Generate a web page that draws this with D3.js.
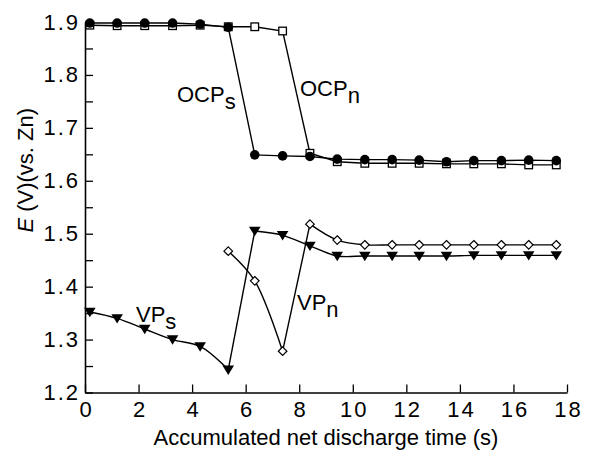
<!DOCTYPE html>
<html>
<head>
<meta charset="utf-8">
<script src="https://cdn.jsdelivr.net/npm/d3@7"></script>
<style>
  html, body { margin: 0; padding: 0; background: #fff; }
  svg { display: block; }
  text { font-family: "Liberation Sans", Arial, sans-serif; fill: #000; }
</style>
</head>
<body>
<svg id="chart" width="599" height="454"></svg>
<script>
// Accumulated net discharge time (s) of each measurement
const times = [0.18, 1.2, 2.23, 3.27, 4.3, 5.35, 6.34, 7.38, 8.4, 9.42, 10.45, 11.47, 12.48, 13.5, 14.52, 15.55, 16.57, 17.6];

// Open-circuit potentials (V vs. Zn)
const ocpS = [1.898, 1.898, 1.898, 1.898, 1.896, 1.890, 1.649, 1.647, 1.646, 1.641, 1.640, 1.640, 1.639, 1.636, 1.638, 1.638, 1.639, 1.638];
const ocpN = [1.894, 1.893, 1.893, 1.893, 1.894, 1.891, 1.891, 1.883, 1.652, 1.636, 1.633, 1.633, 1.633, 1.632, 1.632, 1.632, 1.630, 1.630];

// Voltage plateaus (V vs. Zn); VPn starts at the sixth measurement
const vpS = [1.352, 1.340, 1.320, 1.300, 1.287, 1.243, 1.505, 1.497, 1.477, 1.458, 1.458, 1.458, 1.458, 1.458, 1.459, 1.459, 1.459, 1.459];
const vpNStart = 5;
const vpN = [1.467, 1.411, 1.278, 1.518, 1.488, 1.479, 1.479, 1.479, 1.479, 1.479, 1.479, 1.479, 1.479];

// Axis ticks
const xTicks = [0, 2, 4, 6, 8, 10, 12, 14, 16, 18];
const yTicks = [1.2, 1.25, 1.3, 1.35, 1.4, 1.45, 1.5, 1.55, 1.6, 1.65, 1.7, 1.75, 1.8, 1.85, 1.9];
const yLabels = [1.2, 1.3, 1.4, 1.5, 1.6, 1.7, 1.8, 1.9];

const svg = d3.select("#chart");
const x = d3.scaleLinear().domain([0, 18]).range([85, 567]);
const y = d3.scaleLinear().domain([1.2, 1.9]).range([392.5, 22]);

const pts = (xs, ys) => ys.map((v, i) => ({ t: xs[i], v }));
const S = pts(times, ocpS);
const N = pts(times, ocpN);
const VS = pts(times, vpS);
const VN = pts(times.slice(vpNStart), vpN);

// Axes (ticks point into the plot)
const fmt = d => (yLabels.some(l => Math.abs(l - d) < 1e-6) ? d3.format(".1f")(d) : "");
const xAxis = svg.append("g")
  .attr("transform", `translate(0,${y(1.2)})`)
  .call(d3.axisBottom(x).tickValues(xTicks).tickSizeInner(-8).tickSizeOuter(0).tickPadding(9).tickFormat(d3.format("d")));
const yAxis = svg.append("g")
  .attr("transform", `translate(${x(0)},0)`)
  .call(d3.axisLeft(y).tickValues(yTicks).tickSizeInner(-8).tickSizeOuter(0).tickPadding(5).tickFormat(fmt));
[xAxis, yAxis].forEach(g => {
  g.select(".domain").attr("stroke", "#000").attr("stroke-width", 1.6);
  g.selectAll(".tick line").attr("stroke", "#000").attr("stroke-width", 1.3);
  g.selectAll(".tick text").attr("font-size", 22).attr("letter-spacing", 2)
    .attr("font-family", "Liberation Sans, Arial, sans-serif").attr("fill", "#000");
});
xAxis.selectAll(".tick text").attr("dx", 1);

// Axis titles
svg.append("text")
  .attr("x", (x(0) + x(18)) / 2).attr("y", 445)
  .attr("text-anchor", "middle").attr("font-size", 22)
  .text("Accumulated net discharge time (s)");
const yt = svg.append("text")
  .attr("transform", `translate(33,${(y(1.2) + y(1.9)) / 2 - 37}) rotate(-90)`)
  .attr("text-anchor", "middle").attr("font-size", 22);
yt.append("tspan").attr("font-style", "italic").text("E");
yt.append("tspan").text(" (V)(vs. Zn)");

// Lines
const lin = d3.line().x(d => x(d.t)).y(d => y(d.v));
const crv = d3.line().x(d => x(d.t)).y(d => y(d.v)).curve(d3.curveCatmullRom.alpha(0.5));
const lines = svg.append("g").attr("fill", "none").attr("stroke", "#000").attr("stroke-width", 1.4);
lines.append("path").attr("d", lin(S));
lines.append("path").attr("d", lin(N));
lines.append("path").attr("d", crv(VS.slice(0, 6)));
lines.append("path").attr("d", lin(VS.slice(5, 7)));
lines.append("path").attr("d", crv(VS.slice(6)));
lines.append("path").attr("d", crv(VN.slice(0, 3)));
lines.append("path").attr("d", lin(VN.slice(2, 4)));
lines.append("path").attr("d", crv(VN.slice(3)));

// Markers
const mk = svg.append("g");
mk.selectAll(".sq").data(N).join("rect")
  .attr("x", d => x(d.t) - 3.8).attr("y", d => y(d.v) - 3.8)
  .attr("width", 7.6).attr("height", 7.6)
  .attr("fill", "#fff").attr("stroke", "#000").attr("stroke-width", 1.3);
mk.selectAll(".ci").data(S).join("circle")
  .attr("cx", d => x(d.t)).attr("cy", d => y(d.v)).attr("r", 4.8).attr("fill", "#000");
mk.selectAll(".tri").data(VS).join("path")
  .attr("d", d => { const cx = x(d.t), cy = y(d.v); return `M${cx - 5.8},${cy - 4.2}L${cx + 5.8},${cy - 4.2}L${cx},${cy + 5.2}Z`; })
  .attr("fill", "#000");
mk.selectAll(".dm").data(VN).join("path")
  .attr("d", d => { const cx = x(d.t), cy = y(d.v); return `M${cx},${cy - 4.3}L${cx + 4.3},${cy}L${cx},${cy + 4.3}L${cx - 4.3},${cy}Z`; })
  .attr("fill", "#fff").attr("stroke", "#000").attr("stroke-width", 1.2);

// Series labels with subscripts
function label(px, py, main, sub) {
  const t = svg.append("text").attr("x", px).attr("y", py).attr("font-size", 22);
  t.append("tspan").text(main);
  t.append("tspan").attr("dy", 7).text(sub);
}
label(177, 102, "OCP", "s");
label(300, 96, "OCP", "n");
label(136, 322, "VP", "s");
label(297, 310, "VP", "n");
</script>
</body>
</html>
